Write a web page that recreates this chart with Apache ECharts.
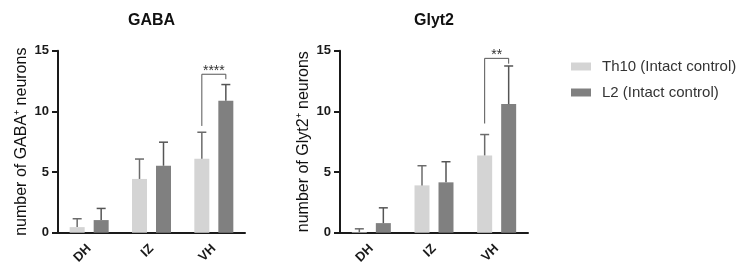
<!DOCTYPE html>
<html>
<head>
<meta charset="utf-8">
<script src="https://cdn.jsdelivr.net/npm/echarts@6/dist/echarts.min.js"></script>
<style>
    html, body { margin: 0; padding: 0; background: #fff; }
    #main { width: 740px; height: 278px; }
</style>
</head>
<body>
<div id="main"></div>
<script>
// chart values (mean and SD, error bars go up only)
var categories = ['DH', 'IZ', 'VH'];
var seriesNames = ['Th10 (Intact control)', 'L2 (Intact control)'];
var yTicks = [0, 5, 10, 15];

var gabaTh10 = [0.46, 4.43, 6.09];
var gabaTh10Sd = [0.69, 1.64, 2.19];
var gabaL2 = [1.04, 5.52, 10.87];
var gabaL2Sd = [0.96, 1.94, 1.34];

var glyTh10 = [0.05, 3.90, 6.37];
var glyTh10Sd = [0.27, 1.62, 1.72];
var glyL2 = [0.79, 4.15, 10.60];
var glyL2Sd = [1.26, 1.70, 3.14];

// significance brackets: [category, left end, top, right end]
var gabaBracket = [2, 8.8, 13.06, 12.65];
var glyBracket = [2, 9.0, 14.37, 13.93];
var bracketLabels = ['****', '**'];

var lightColor = '#d4d4d4';
var darkColor = '#808080';
var axisColor = '#1a1a1a';
var fontFamily = '"Liberation Sans", Arial, sans-serif';
var barWidth = 15;
var barGapPx = 9;
var barOffset = (barWidth + barGapPx) / 2;

function errRows(means, sds) {
    var rows = [];
    for (var i = 0; i < means.length; i++) {
        rows.push([i, means[i], means[i] + sds[i]]);
    }
    return rows;
}

function errorSeries(gridIdx, means, sds, offset, color) {
    return {
        type: 'custom',
        xAxisIndex: gridIdx,
        yAxisIndex: gridIdx,
        z: 3,
        data: errRows(means, sds),
        renderItem: function (params, api) {
            var base = api.coord([api.value(0), api.value(1)]);
            var top = api.coord([api.value(0), api.value(2)]);
            var cx = base[0] + offset;
            var st = {stroke: color, lineWidth: 1.5};
            return {
                type: 'group',
                children: [
                    {type: 'line', shape: {x1: cx, y1: base[1], x2: cx, y2: top[1]}, style: st},
                    {type: 'line', shape: {x1: cx - 4.5, y1: top[1], x2: cx + 4.5, y2: top[1]}, style: st}
                ]
            };
        }
    };
}

function bracketSeries(gridIdx, row, label) {
    return {
        type: 'custom',
        xAxisIndex: gridIdx,
        yAxisIndex: gridIdx,
        z: 3,
        data: [row],
        renderItem: function (params, api) {
            var pl = api.coord([api.value(0), api.value(1)]);
            var pt = api.coord([api.value(0), api.value(2)]);
            var pr = api.coord([api.value(0), api.value(3)]);
            var xl = pl[0] - barOffset;
            var xr = pl[0] + barOffset;
            var st = {stroke: '#555', lineWidth: 1, fill: null};
            return {
                type: 'group',
                children: [
                    {type: 'polyline', shape: {points: [[xl, pl[1]], [xl, pt[1]], [xr, pt[1]], [xr, pr[1]]]}, style: st},
                    {type: 'text', x: (xl + xr) / 2, y: pt[1] + 4, style: {
                        text: label, textAlign: 'center', textVerticalAlign: 'bottom',
                        fontSize: 14, fill: '#333', fontFamily: fontFamily
                    }}
                ]
            };
        }
    };
}

function xAxisFor(gridIdx) {
    return {
        type: 'category',
        gridIndex: gridIdx,
        data: categories,
        axisLine: {lineStyle: {color: axisColor, width: 2}},
        axisTick: {alignWithLabel: true, length: 7, lineStyle: {color: axisColor, width: 2}},
        axisLabel: {rotate: 45, margin: 14, fontSize: 13, fontWeight: 'bold', color: axisColor, fontFamily: fontFamily}
    };
}

function yAxisFor(gridIdx, name) {
    return {
        type: 'value',
        gridIndex: gridIdx,
        min: yTicks[0],
        max: yTicks[yTicks.length - 1],
        interval: yTicks[1] - yTicks[0],
        name: name,
        nameLocation: 'middle',
        nameGap: 28,
        nameTextStyle: {fontSize: 16, color: '#111', fontFamily: fontFamily},
        axisLine: {show: true, lineStyle: {color: axisColor, width: 2}},
        axisTick: {show: true, length: 6, lineStyle: {color: axisColor, width: 2}},
        axisLabel: {margin: 9, fontSize: 13, fontWeight: 'bold', color: axisColor, fontFamily: fontFamily},
        splitLine: {show: false}
    };
}

function barSeries(gridIdx, name, values, color) {
    return {
        name: name,
        type: 'bar',
        xAxisIndex: gridIdx,
        yAxisIndex: gridIdx,
        barWidth: barWidth,
        barGap: (barGapPx / barWidth * 100) + '%',
        itemStyle: {color: color},
        data: values
    };
}

var chart = echarts.init(document.getElementById('main'));

var option = {
    animation: false,
    backgroundColor: '#fff',
    textStyle: {fontFamily: fontFamily},
    title: [
        {text: 'GABA', left: 151.5, top: 13, textAlign: 'center', padding: 0,
            textStyle: {fontSize: 16, fontWeight: 'bold', color: '#111', fontFamily: fontFamily}},
        {text: 'Glyt2', left: 434, top: 13, textAlign: 'center', padding: 0,
            textStyle: {fontSize: 16, fontWeight: 'bold', color: '#111', fontFamily: fontFamily}}
    ],
    legend: {
        orient: 'vertical',
        left: 566,
        top: 54,
        itemWidth: 20,
        itemHeight: 8,
        itemGap: 11,
        icon: 'rect',
        data: seriesNames,
        textStyle: {fontSize: 15, color: '#333', fontFamily: fontFamily, padding: [0, 0, 0, 6]}
    },
    grid: [
        {left: 58, top: 50.7, width: 187, height: 182},
        {left: 340, top: 50.7, width: 188, height: 182}
    ],
    xAxis: [xAxisFor(0), xAxisFor(1)],
    yAxis: [
        yAxisFor(0, 'number of GABA\u207A neurons'),
        yAxisFor(1, 'number of Glyt2\u207A neurons')
    ],
    series: [
        barSeries(0, seriesNames[0], gabaTh10, lightColor),
        barSeries(0, seriesNames[1], gabaL2, darkColor),
        barSeries(1, seriesNames[0], glyTh10, lightColor),
        barSeries(1, seriesNames[1], glyL2, darkColor),
        errorSeries(0, gabaTh10, gabaTh10Sd, -barOffset, '#6b6b6b'),
        errorSeries(0, gabaL2, gabaL2Sd, barOffset, '#555'),
        errorSeries(1, glyTh10, glyTh10Sd, -barOffset, '#6b6b6b'),
        errorSeries(1, glyL2, glyL2Sd, barOffset, '#555'),
        bracketSeries(0, gabaBracket, bracketLabels[0]),
        bracketSeries(1, glyBracket, bracketLabels[1])
    ]
};

chart.setOption(option);
</script>
</body>
</html>
